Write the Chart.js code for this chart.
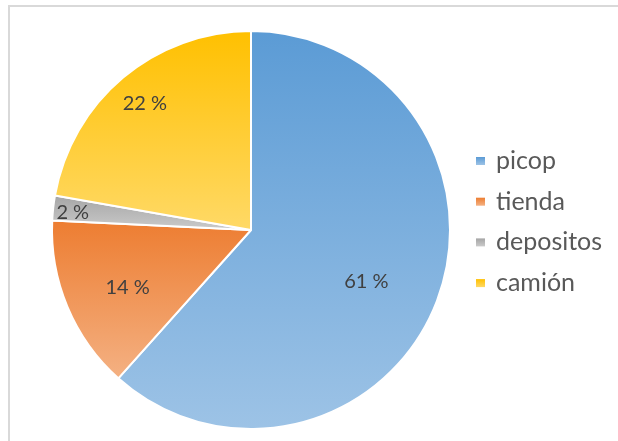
<!DOCTYPE html>
<html>
<head>
<meta charset="utf-8">
<script src="https://cdn.jsdelivr.net/npm/chart.js@4.4.1/dist/chart.umd.min.js"></script>
<style>
  body { margin: 0; background: #fff; }
  #frame {
    position: absolute; left: 8px; top: 5px; width: 700px; height: 500px;
    border-top: 2px solid #d9d9d9; border-left: 2px solid #d9d9d9;
  }
  #wrap { position: absolute; left: 0; top: 0; width: 618px; height: 441px; }
</style>
</head>
<body>
<div id="frame"></div>
<div id="wrap"><canvas id="pieChart" width="618" height="441"></canvas></div>
<script>
const labels = ["picop", "tienda", "depositos", "camión"];
const values = [61, 14, 2, 22];

// gradient stops per slice: top colour, bottom colour
const topColors = ["#5b9bd5", "#ed7d31", "#a5a5a5", "#ffc000"];
const bottomColors = ["#9dc3e6", "#f4b183", "#cacaca", "#ffd966"];

// where each percentage label sits: fraction of radius, angle nudge in degrees
const labelRadius = [0.635, 0.685, 0.9, 0.83];
const labelNudge = [3.2, -2.4, -0.7, 0];

function sliceGradient(ctx) {
  const chart = ctx.chart;
  const area = chart.chartArea;
  const i = ctx.dataIndex;
  if (!area) return topColors[i];
  const cx = (area.left + area.right) / 2;
  const cy = (area.top + area.bottom) / 2;
  const r = Math.min(area.width, area.height) / 2;
  const total = values.reduce((a, b) => a + b, 0);
  let before = 0;
  for (let k = 0; k < i; k++) before += values[k];
  const a0 = before / total * 2 * Math.PI;
  const a1 = (before + values[i]) / total * 2 * Math.PI;
  // vertical extent of the sector (angles clockwise from 12 o'clock)
  const ys = [cy, cy - r * Math.cos(a0), cy - r * Math.cos(a1)];
  if (a0 <= 0) ys.push(cy - r);
  if (a0 <= Math.PI && a1 >= Math.PI) ys.push(cy + r);
  const y0 = Math.min(...ys), y1 = Math.max(...ys);
  const g = chart.ctx.createLinearGradient(0, y0, 0, y1);
  g.addColorStop(0, topColors[i]);
  g.addColorStop(1, bottomColors[i]);
  return g;
}

const pieLabels = {
  id: "pieLabels",
  afterDatasetsDraw(chart) {
    const ctx = chart.ctx;
    const meta = chart.getDatasetMeta(0);
    ctx.save();
    ctx.font = "20px Lato";
    ctx.fillStyle = "#404040";
    ctx.textAlign = "center";
    ctx.textBaseline = "middle";
    meta.data.forEach((arc, i) => {
      const p = arc.getProps(["x", "y", "startAngle", "endAngle", "outerRadius"], true);
      const mid = (p.startAngle + p.endAngle) / 2 + labelNudge[i] * Math.PI / 180;
      const d = p.outerRadius * labelRadius[i];
      ctx.fillText(values[i] + " %", p.x + Math.cos(mid) * d, p.y + Math.sin(mid) * d);
    });
    ctx.restore();
  }
};

const sideLegend = {
  id: "sideLegend",
  afterDraw(chart) {
    const ctx = chart.ctx;
    ctx.save();
    ctx.font = "25px Lato";
    ctx.textBaseline = "middle";
    labels.forEach((name, i) => {
      const y = 161 + i * 40.7;
      const g = ctx.createLinearGradient(0, y - 4, 0, y + 4);
      g.addColorStop(0, topColors[i]);
      g.addColorStop(1, bottomColors[i]);
      ctx.fillStyle = g;
      ctx.fillRect(476, y - 4, 9, 8);
      ctx.fillStyle = "#595959";
      ctx.fillText(name, 496, y);
    });
    ctx.restore();
  }
};

new Chart(document.getElementById("pieChart"), {
  type: "pie",
  data: {
    labels: labels,
    datasets: [{
      data: values,
      backgroundColor: sliceGradient,
      borderColor: "#ffffff",
      borderWidth: 2
    }]
  },
  options: {
    responsive: false,
    animation: false,
    layout: { padding: { left: 51, top: 30, right: 167, bottom: 11 } },
    plugins: {
      legend: { display: false },
      tooltip: { enabled: false }
    }
  },
  plugins: [pieLabels, sideLegend]
});
</script>
</body>
</html>
